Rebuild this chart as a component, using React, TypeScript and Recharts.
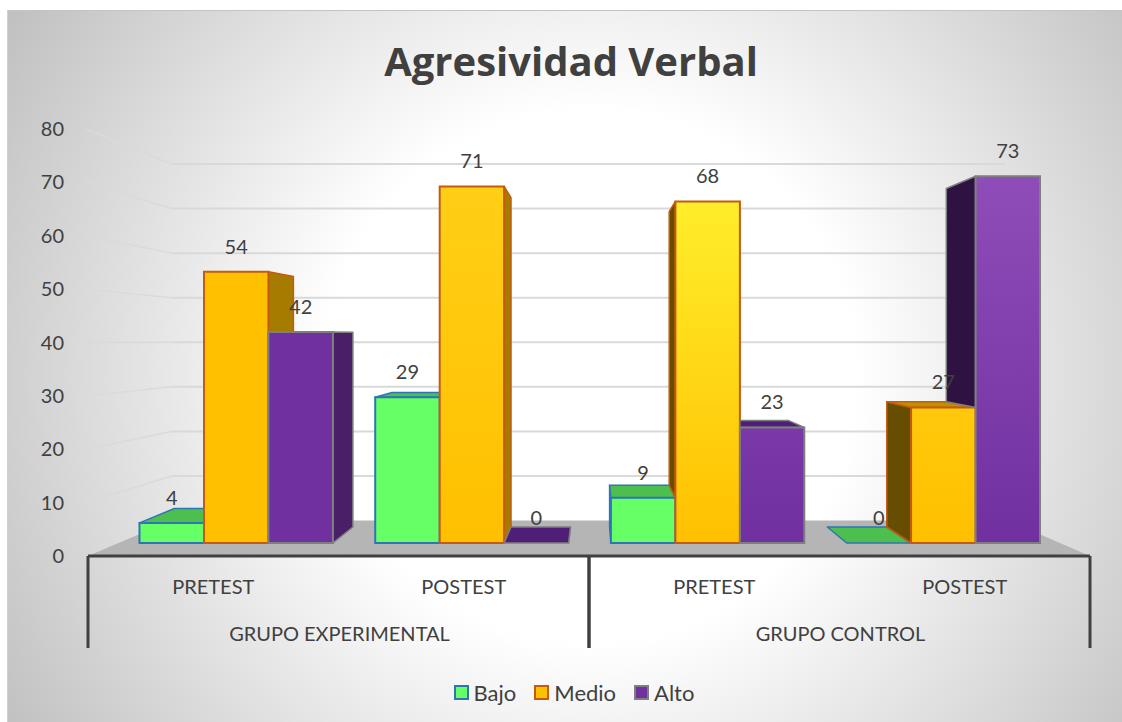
import React from "react";
import { Bar, BarChart, CartesianGrid, LabelList, Legend, XAxis, YAxis } from "recharts";

const groups = ["GRUPO EXPERIMENTAL", "GRUPO EXPERIMENTAL", "GRUPO CONTROL", "GRUPO CONTROL"];
const phases = ["PRETEST", "POSTEST", "PRETEST", "POSTEST"];
const bajo = [4, 29, 9, 0];
const medio = [54, 71, 68, 27];
const alto = [42, 0, 23, 73];
const yTicks = [0, 10, 20, 30, 40, 50, 60, 70, 80];
const seriesNames = ["Bajo", "Medio", "Alto"];
const seriesValues = [bajo, medio, alto];

const data = phases.map((phase, i) => ({
  phase,
  group: groups[i],
  Bajo: bajo[i],
  Medio: medio[i],
  Alto: alto[i],
}));

// fake 3D: everything is projected toward one vanishing point
const VP_X = 594;
const VP_Y = 335;
const PLANE_K = 0.059; // front of the bars
const DEPTH_K = 0.0766; // bar depth
const WALL_K = 0.165; // back wall

const PLOT_LEFT = 88;
const PLOT_RIGHT = 1090;
const PLOT_TOP = 129;
const PLOT_BOTTOM = 556;
const UNIT = (PLOT_BOTTOM - PLOT_TOP) / 80;

const INK = "#404040";
const FONT = "Lato, sans-serif";

const project = (x: number, y: number, k: number) => [x + (VP_X - x) * k, y + (VP_Y - y) * k];
const pts = (list: number[][]) => list.map((p) => p.map((n) => n.toFixed(1)).join(",")).join(" ");

const styles = [
  { stroke: "#2E75B6", top: "#4DBF4F", right: "#3F9E41", left: "#3F9E41" },
  { stroke: "#C55A11", top: "#BF9000", right: "#A67C00", left: "#664D00" },
  { stroke: "#7F7F7F", top: "#4F1F78", right: "#4A1F68", left: "#2D1242" },
];

// top colour of each front face, the bottom colour is the plain series colour
const frontColors = [
  [["#66FF66", "#66FF66"], ["#66FF66", "#66FF66"], ["#66FF66", "#66FF66"], ["#66FF66", "#66FF66"]],
  [["#FFC000", "#FFC000"], ["#FFCF16", "#FFC000"], ["#FFEE2B", "#FFC000"], ["#FFC90C", "#FFC000"]],
  [["#7030A0", "#7030A0"], ["#7030A0", "#7030A0"], ["#7A38A8", "#7030A0"], ["#8E4DB8", "#7030A0"]],
];

const makeShape = (s: number) => (props: any) => {
  const { x, y, width, index } = props;
  const style = styles[s];
  const base = PLOT_BOTTOM;
  const value = seriesValues[s][index];
  const left = x;
  const right = x + width;

  const f = (px: number, py: number) => project(px, py, PLANE_K);
  const b = (px: number, py: number) => {
    const [fx, fy] = f(px, py);
    return project(fx, fy, DEPTH_K);
  };

  const fTL = f(left, y);
  const fTR = f(right, y);
  const fBR = f(right, base);
  const fBL = f(left, base);
  const rightGroup = (fTL[0] + fTR[0]) / 2 > VP_X;

  let wall: number[][] | null = null;
  if (!rightGroup) {
    wall = [fTR, b(right, y), b(right, base), fBR];
  } else {
    // left wall only shows above the bar next to it
    const prev = s > 0 ? seriesValues[s - 1][index] : 0;
    if (prev < value) {
      const yPrev = base - prev * UNIT;
      wall = [fTL, b(left, y), b(left, yPrev), f(left, yPrev)];
    }
  }

  let top: number[][] | null = null;
  if (fTL[1] > VP_Y) {
    const bTL = b(left, y);
    const bTR = b(right, y);
    const prev = s > 0 ? seriesValues[s - 1][index] : -1;
    top = rightGroup && prev > value ? [fTL, fTR, bTR, [fTL[0], bTL[1]]] : [fTL, fTR, bTR, bTL];
  }

  return (
    <g>
      {wall && (
        <polygon
          points={pts(wall)}
          fill={rightGroup ? style.left : style.right}
          stroke={style.stroke}
          strokeWidth={1.5}
          strokeLinejoin="round"
        />
      )}
      {top && (
        <polygon points={pts(top)} fill={style.top} stroke={style.stroke} strokeWidth={1.5} strokeLinejoin="round" />
      )}
      {value > 0 && (
        <polygon
          points={pts([fTL, fTR, fBR, fBL])}
          fill={`url(#front-${s}-${index})`}
          stroke={style.stroke}
          strokeWidth={2}
        />
      )}
    </g>
  );
};

const renderValue = (props: any) => {
  const { x, y, width, value } = props;
  const [lx, ly] = project(x + width / 2, y, PLANE_K);
  return (
    <text x={lx} y={ly - 26} fill={INK} fontSize={20} fontFamily={FONT} textAnchor="middle" dominantBaseline="central">
      {value}
    </text>
  );
};

const renderGridLine = (props: any) => {
  const { y1, key } = props;
  const [wallLeft, rawY] = project(PLOT_LEFT, y1, WALL_K);
  const [wallRight] = project(PLOT_RIGHT, y1, WALL_K);
  const wallY = rawY + 1;
  if (y1 >= PLOT_BOTTOM - 1) {
    return (
      <polygon
        key={key}
        points={pts([[PLOT_LEFT, y1], [PLOT_RIGHT, y1], [wallRight, wallY], [wallLeft, wallY]])}
        fill="#B5B5B5"
      />
    );
  }
  return (
    <g key={key}>
      <line x1={86} y1={y1} x2={wallLeft} y2={wallY} stroke="#DADADA" strokeWidth={1.5} />
      <line x1={wallLeft} y1={wallY} x2={wallRight - 3} y2={wallY} stroke="#D9D9D9" strokeWidth={2} />
    </g>
  );
};

const GroupTick = (props: any) => {
  const { x, payload } = props;
  const half = (PLOT_RIGHT - PLOT_LEFT) / 4;
  return (
    <g>
      <line x1={x - half} x2={x - half} y1={PLOT_BOTTOM} y2={648} stroke={INK} strokeWidth={3} />
      <line x1={x + half} x2={x + half} y1={PLOT_BOTTOM} y2={648} stroke={INK} strokeWidth={3} />
      <text x={x + 1} y={633} fill={INK} fontSize={20} fontFamily={FONT} textAnchor="middle" dominantBaseline="central">
        {payload.value}
      </text>
    </g>
  );
};

const renderLegend = () => (
  <div
    style={{
      display: "flex",
      justifyContent: "center",
      alignItems: "center",
      height: 50,
      paddingLeft: 58,
      fontFamily: FONT,
      fontSize: 22,
      color: INK,
    }}
  >
    {seriesNames.map((name, s) => (
      <span key={name} style={{ display: "flex", alignItems: "center", marginRight: s < 2 ? 18 : 0 }}>
        <span
          style={{
            width: 15,
            height: 15,
            boxSizing: "border-box",
            marginRight: 5,
            background: frontColors[s][0][1],
            border: `2px solid ${styles[s].stroke}`,
          }}
        />
        {name}
      </span>
    ))}
  </div>
);

export default function App() {
  return (
    <div style={{ position: "absolute", left: 0, top: 0, width: 1122, height: 722, background: "#fff", overflow: "hidden" }}>
      <div
        style={{
          position: "absolute",
          left: 7,
          top: 10,
          width: 1115,
          height: 712,
          background: "radial-gradient(circle 700px at 583px 365px, #ffffff 38%, #bebebe 100%)",
          borderTop: "1px solid #c4c4c4",
          borderLeft: "1px solid #d0d0d0",
          boxSizing: "border-box",
        }}
      />
      <div style={{ position: "absolute", left: 0, top: 0 }}>
        <BarChart
          width={1122}
          height={722}
          data={data}
          barSize={68.5}
          barGap={0}
          margin={{ top: PLOT_TOP, right: 1122 - PLOT_RIGHT, bottom: 5, left: 0 }}
        >
          <defs>
            {frontColors.map((row, s) =>
              row.map(([c1, c2], i) => (
                <linearGradient key={`${s}-${i}`} id={`front-${s}-${i}`} x1="0" y1="0" x2="0" y2="1">
                  <stop offset="0%" stopColor={c1} />
                  <stop offset="100%" stopColor={c2} />
                </linearGradient>
              ))
            )}
          </defs>
          <text
            x={571}
            y={60}
            fill={INK}
            fontSize={40}
            fontWeight={700}
            fontFamily="'Open Sans', sans-serif"
            textAnchor="middle"
            dominantBaseline="central"
          >
            Agresividad Verbal
          </text>
          <CartesianGrid vertical={false} horizontal={renderGridLine} />
          <XAxis
            dataKey="phase"
            height={60}
            tickLine={false}
            tickSize={0}
            tickMargin={24}
            interval={0}
            axisLine={{ stroke: INK, strokeWidth: 3 }}
            tick={{ fill: INK, fontSize: 20, fontFamily: FONT }}
          />
          <XAxis
            xAxisId="group"
            dataKey="group"
            height={51}
            allowDuplicatedCategory={false}
            axisLine={false}
            tickLine={false}
            interval={0}
            tick={<GroupTick />}
          />
          <YAxis
            width={PLOT_LEFT}
            domain={[0, 80]}
            ticks={yTicks}
            axisLine={false}
            tickLine={false}
            tickSize={0}
            tickMargin={24}
            tick={{ fill: INK, fontSize: 20, fontFamily: FONT }}
          />
          {seriesNames.map((name, s) => (
            <Bar key={name} dataKey={name} shape={makeShape(s)} isAnimationActive={false}>
              <LabelList dataKey={name} content={renderValue} />
            </Bar>
          ))}
          <Legend verticalAlign="bottom" height={50} content={renderLegend} />
        </BarChart>
      </div>
    </div>
  );
}
